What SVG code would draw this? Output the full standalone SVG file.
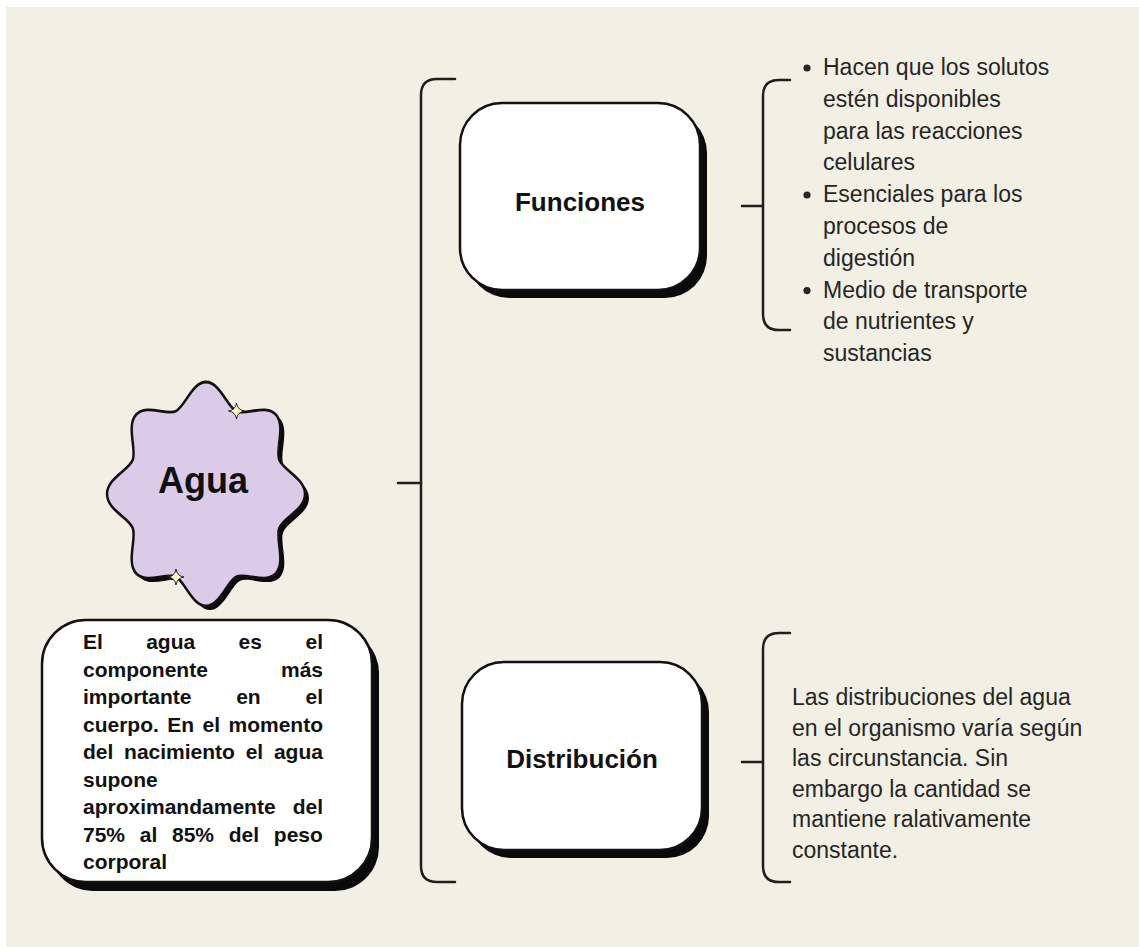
<svg xmlns="http://www.w3.org/2000/svg" width="1139" height="947" viewBox="0 0 1139 947">
<defs>
<style>
.bg{fill:#f2efe5}
.box{fill:#ffffff;stroke:#111;stroke-width:2.5}
.shadow{fill:#0a0a0a}
.line{fill:none;stroke:#1f1f1f;stroke-width:2.5;stroke-linecap:round}
.title{font-family:"Liberation Sans",Arial,sans-serif;font-weight:bold;fill:#111;text-anchor:middle}
.body{font-family:"Liberation Sans",Arial,sans-serif;font-size:23px;fill:#262626}
.para{font-family:"Liberation Sans",Arial,sans-serif;font-weight:bold;font-size:21px;fill:#111}
.end{text-anchor:end}
.spark{fill:#fbf3c6;stroke:#111;stroke-width:0.9}
</style>
<path id="star" d="M0,-100 C14,-100 21.38,-77.74 30.62,-73.91 C39.86,-70.08 60.81,-80.61 70.71,-70.71 C80.61,-60.81 70.08,-39.86 73.91,-30.62 C77.74,-21.38 100,-14 100,0 C100,14 77.74,21.38 73.91,30.62 C70.08,39.86 80.61,60.81 70.71,70.71 C60.81,80.61 39.86,70.08 30.62,73.91 C21.38,77.74 14,100 0,100 C-14,100 -21.38,77.74 -30.62,73.91 C-39.86,70.08 -60.81,80.61 -70.71,70.71 C-80.61,60.81 -70.08,39.86 -73.91,30.62 C-77.74,21.38 -100,14 -100,0 C-100,-14 -77.74,-21.38 -73.91,-30.62 C-70.08,-39.86 -80.61,-60.81 -70.71,-70.71 C-60.81,-80.61 -39.86,-70.08 -30.62,-73.91 C-21.38,-77.74 -14,-100 0,-100 Z"/>
<path id="sparkle" d="M0,-8 Q1,-1 8,0 Q1,1 0,8 Q-1,1 -8,0 Q-1,-1 0,-8 Z"/>
</defs>
<rect x="0" y="0" width="1139" height="947" fill="#ffffff"/>
<rect class="bg" x="6" y="7" width="1133" height="940"/>

<g id="connectors">
<path class="line" d="M455,79 L437,79 Q421,79 421,95 L421,866 Q421,882 437,882 L455,882"/>
<path class="line" d="M398,483 L421,483"/>
<path class="line" d="M790,80 L779,80 Q763,80 763,96 L763,314 Q763,330 779,330 L790,330"/>
<path class="line" d="M742,206 L763,206"/>
<path class="line" d="M790,633 L779,633 Q763,633 763,649 L763,866 Q763,882 779,882 L790,882"/>
<path class="line" d="M742,762 L763,762"/>
</g>

<g id="agua">
<use href="#star" transform="translate(210,498) scale(0.99,1.12)" class="shadow"/>
<use href="#star" transform="translate(206,494) scale(0.99,1.12)" fill="#dccbe8" stroke="#111" stroke-width="2.5" vector-effect="non-scaling-stroke"/>
<use href="#sparkle" class="spark" transform="translate(236.5,411)"/>
<use href="#sparkle" class="spark" transform="translate(176,577)"/>
<text class="title" x="203" y="493" font-size="36">Agua</text>
</g>

<g id="descripcion">
<rect class="shadow" x="49" y="629" width="330" height="262" rx="44"/>
<rect class="box" x="42" y="620" width="330" height="262" rx="44"/>
<text class="para">
<tspan x="83" y="649">El</tspan><tspan x="146.2" y="649">agua</tspan><tspan x="238.6" y="649">es</tspan>
</text>
<text class="para end" x="323" y="649">el</text>
<text class="para" x="83" y="676.5">componente</text>
<text class="para end" x="323" y="676.5">más</text>
<text class="para"><tspan x="83" y="704">importante</tspan><tspan x="236.2" y="704">en</tspan></text>
<text class="para end" x="323" y="704">el</text>
<text class="para" x="83" y="731.5" word-spacing="2.6">cuerpo. En el momento</text>
<text class="para" x="83" y="759" word-spacing="4.9">del nacimiento el agua</text>
<text class="para" x="83" y="786.5">supone</text>
<text class="para" x="83" y="814" word-spacing="11.3">aproximandamente del</text>
<text class="para" x="83" y="841.5" word-spacing="8.9">75% al 85% del peso</text>
<text class="para" x="83" y="869">corporal</text>
</g>

<g id="funciones">
<rect class="shadow" x="467" y="111" width="240" height="187" rx="42"/>
<rect class="box" x="460" y="103" width="240" height="187" rx="42"/>
<text class="title" x="580" y="211" font-size="26">Funciones</text>
</g>

<g id="funciones-detalle">
<circle cx="807" cy="68" r="3.6" fill="#262626"/>
<circle cx="807" cy="195" r="3.6" fill="#262626"/>
<circle cx="807" cy="290.6" r="3.6" fill="#262626"/>
<text class="body">
<tspan x="823" y="75">Hacen que los solutos</tspan>
<tspan x="823" y="106.8">estén disponibles</tspan>
<tspan x="823" y="138.6">para las reacciones</tspan>
<tspan x="823" y="170.4">celulares</tspan>
<tspan x="823" y="202.2">Esenciales para los</tspan>
<tspan x="823" y="234">procesos de</tspan>
<tspan x="823" y="265.8">digestión</tspan>
<tspan x="823" y="297.6">Medio de transporte</tspan>
<tspan x="823" y="329.4">de nutrientes y</tspan>
<tspan x="823" y="361.2">sustancias</tspan>
</text>
</g>

<g id="distribucion">
<rect class="shadow" x="469" y="670" width="240" height="188" rx="42"/>
<rect class="box" x="462" y="662" width="240" height="188" rx="42"/>
<text class="title" x="582" y="768" font-size="26">Distribución</text>
</g>

<g id="distribucion-detalle">
<text class="body">
<tspan x="792" y="705">Las distribuciones del agua</tspan>
<tspan x="792" y="735.5">en el organismo varía según</tspan>
<tspan x="792" y="766">las circunstancia. Sin</tspan>
<tspan x="792" y="796.5">embargo la cantidad se</tspan>
<tspan x="792" y="827">mantiene ralativamente</tspan>
<tspan x="792" y="857.5">constante.</tspan>
</text>
</g>
</svg>
